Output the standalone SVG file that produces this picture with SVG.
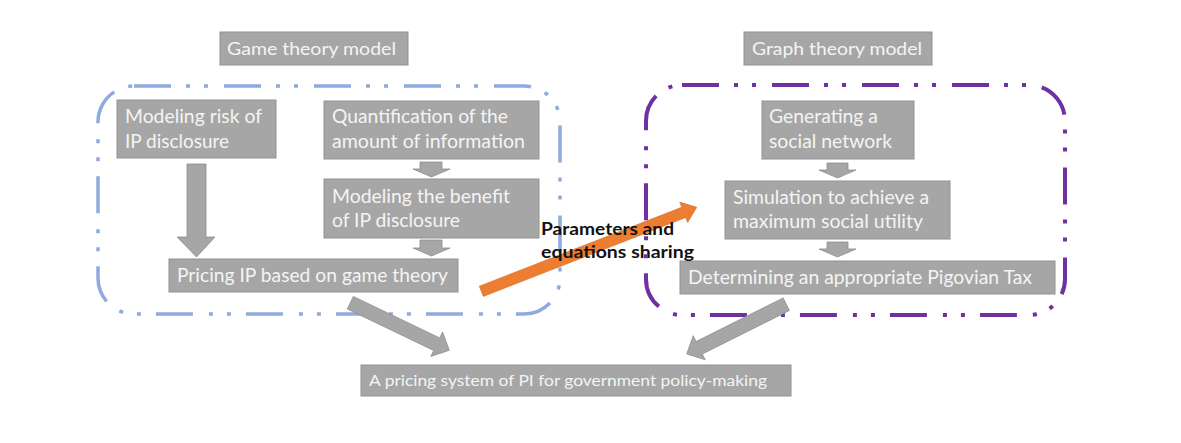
<svg xmlns="http://www.w3.org/2000/svg" width="1181" height="443" viewBox="0 0 1181 443">
<style>
.box{fill:#a6a6a6;stroke:#929292;stroke-width:1}
.t{font-family:Lato,"Open Sans","Liberation Sans",sans-serif;fill:#f4f4f4;font-size:18.5px}
.ts{font-size:17px}
.tb{font-size:15.5px}
.arr{fill:#a6a6a6;stroke:#8e8e8e;stroke-width:0.8}
.lbl{font-family:Lato,"Open Sans","Liberation Sans",sans-serif;font-weight:bold;font-size:16.5px;fill:#111}
</style>
<rect width="1181" height="443" fill="#ffffff"/>
<g id="game-title"><rect class="box" x="220" y="32" width="188" height="33"/><text class="t ts" x="227" y="55" textLength="169" lengthAdjust="spacingAndGlyphs">Game theory model</text></g>
<g id="graph-title"><rect class="box" x="744" y="32" width="188" height="33"/><text class="t ts" x="752" y="55" textLength="170" lengthAdjust="spacingAndGlyphs">Graph theory model</text></g>
<g id="game-frame"><rect x="98" y="86" width="462" height="228" rx="36" fill="none" stroke="#8faadc" stroke-width="3.5" stroke-dasharray="37 15 4 14 4 16"/></g>
<g id="connectors">
<polygon class="arr" points="187,164 206,164 206,237 215,237 196.5,257 177,237 187,237"/>
<polygon class="arr" points="420,162 442,162 442,169 450,169 431.5,177 413,169 420,169"/>
<polygon class="arr" points="420,240 442,240 442,248 450,248 431.5,256 413,248 420,248"/>
<polygon class="arr" points="827,163 848,163 848,170 856,170 837.5,178 819,170 827,170"/>
<polygon class="arr" points="827,242 848,242 848,249 856,249 837.5,257 819,249 827,249"/>
<polygon fill="#ed7d31" stroke="#d46a22" stroke-width="0.6" points="479.3,286.2 681.7,207.3 679.7,202.1 696.7,207.3 687.7,222.6 685.7,217.5 483.3,296.4"/>
</g>
<g id="risk"><rect class="box" x="117" y="100" width="159" height="58"/><text class="t" x="125" y="123" textLength="137" lengthAdjust="spacingAndGlyphs">Modeling risk of</text><text class="t" x="125" y="148" textLength="104" lengthAdjust="spacingAndGlyphs">IP disclosure</text></g>
<g id="quant"><rect class="box" x="324" y="101" width="215" height="58"/><text class="t" x="332" y="123" textLength="176" lengthAdjust="spacingAndGlyphs">Quantification of the</text><text class="t" x="332" y="148" textLength="193" lengthAdjust="spacingAndGlyphs">amount of information</text></g>
<g id="benefit"><rect class="box" x="324" y="179" width="215" height="59"/><text class="t" x="332" y="203" textLength="178" lengthAdjust="spacingAndGlyphs">Modeling the benefit</text><text class="t" x="332" y="227" textLength="128" lengthAdjust="spacingAndGlyphs">of IP disclosure</text></g>
<g id="pricing"><rect class="box" x="169" y="259" width="289" height="33"/><text class="t" x="177" y="282" textLength="271" lengthAdjust="spacingAndGlyphs">Pricing IP based on game theory</text></g>
<g id="generating"><rect class="box" x="762" y="101" width="152" height="58"/><text class="t" x="769" y="123" textLength="109" lengthAdjust="spacingAndGlyphs">Generating a</text><text class="t" x="769" y="148" textLength="123" lengthAdjust="spacingAndGlyphs">social network</text></g>
<g id="simulation"><rect class="box" x="725" y="181" width="225" height="58"/><text class="t" x="733" y="204" textLength="196" lengthAdjust="spacingAndGlyphs">Simulation to achieve a</text><text class="t" x="733" y="228" textLength="190" lengthAdjust="spacingAndGlyphs">maximum social utility</text></g>
<g id="pigovian"><rect class="box" x="680" y="261" width="375" height="33"/><text class="t" x="688" y="284" textLength="344" lengthAdjust="spacingAndGlyphs">Determining an appropriate Pigovian Tax</text></g>
<g id="share-label"><text class="lbl" x="541" y="235" textLength="133" lengthAdjust="spacingAndGlyphs">Parameters and</text><text class="lbl" x="541" y="258" textLength="153" lengthAdjust="spacingAndGlyphs">equations sharing</text></g>
<g id="graph-frame"><rect x="646" y="85" width="419" height="230" rx="36" fill="none" stroke="#7030a0" stroke-width="4" stroke-dasharray="37 15 4 14 4 16"/></g>
<g id="connectors-out">
<polygon class="arr" points="353.3,296.4 439.7,337.9 442.6,332.0 449.3,350.3 430.8,356.4 433.7,350.5 347.3,309.0"/>
<polygon class="arr" points="783.2,297.9 696.1,341.5 693.2,335.7 686.7,354 705.2,359.8 702.3,354.0 789.4,310.5"/>
</g>
<g id="system"><rect class="box" x="361" y="365" width="430" height="31"/><text class="t tb" x="369" y="386" textLength="398" lengthAdjust="spacingAndGlyphs">A pricing system of PI for government policy-making</text></g>
</svg>
